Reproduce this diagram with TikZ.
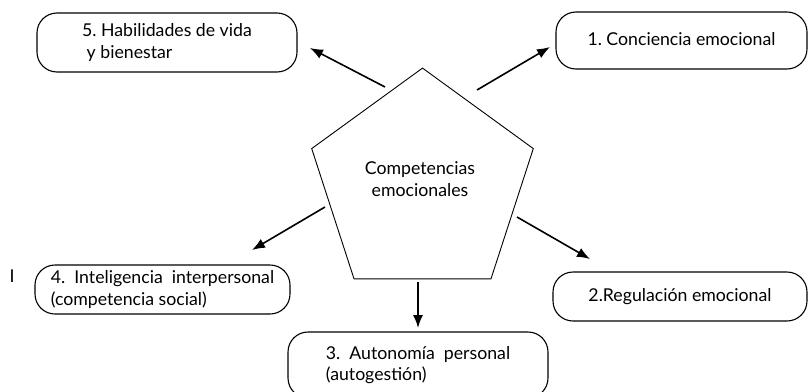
\documentclass[tikz,border=0pt]{standalone}
\usepackage{fontspec}
\setmainfont{Lato}
\usetikzlibrary{shapes.geometric,arrows.meta}

\begin{document}
\begin{tikzpicture}[x=1pt,y=-1pt,
        caja/.style={draw,rounded corners=20pt,line width=1.1pt,align=left,inner sep=0pt,font=\fontsize{17.7}{21.5}\selectfont},
        flecha/.style={-{Latex[length=13pt,width=10pt]},line width=1.6pt}]
            \useasboundingbox (0,0) rectangle (808,391);
            \node[draw,regular polygon,regular polygon sides=5,minimum size=233pt,inner sep=0pt,line width=0.9pt] (comp) at (422.5,184.6) {};
            \node[align=center,font=\fontsize{17.7}{22}\selectfont] (comptxt) at (420,179) {Competencias\\emocionales};
            \node[caja,minimum width=260pt,minimum height=59pt] (hab) at (167,42.5) {5.\ Habilidades de vida\\ \ y bienestar};
            \node[caja,minimum width=251pt,minimum height=57pt] (conc) at (681.5,40.5) {\raisebox{3pt}{1.\ Conciencia emocional}};
            \node[caja,minimum width=255pt,minimum height=49pt] (intel) at (162.5,289.5) {4.\ \ Inteligencia\ \ interpersonal\\(competencia social)};
            \node[caja,minimum width=260pt,minimum height=66pt] (auto) at (418,365) {3.\ \ Autonom\'ia\ \ personal\\(autogesti\'on)};
            \node[caja,minimum width=254pt,minimum height=49pt] (regul) at (680,296.5) {2.Regulaci\'on emocional};
            \node[font=\fontsize{17.7}{20}\selectfont] (marca) at (12,276) {I};
            \coordinate (s5) at (385,87);
            \coordinate (e5) at (310,48);
            \coordinate (s1) at (477,90);
            \coordinate (e1) at (550,47);
            \coordinate (s4) at (325,207);
            \coordinate (e4) at (252,250);
            \coordinate (s2) at (517,217);
            \coordinate (e2) at (590,259);
            \coordinate (s3) at (418,282);
            \coordinate (e3) at (418,328);
            \draw[flecha] (s5) -- (e5);
            \draw[flecha] (s1) -- (e1);
            \draw[flecha] (s4) -- (e4);
            \draw[flecha] (s2) -- (e2);
            \draw[flecha] (s3) -- (e3);
        \end{tikzpicture}
\end{document}
